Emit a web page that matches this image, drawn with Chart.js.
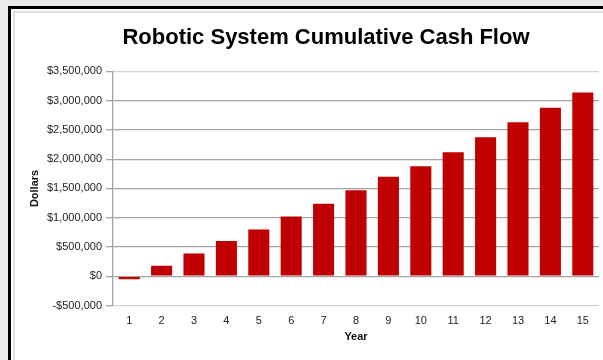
<!DOCTYPE html>
<html>
<head>
<meta charset="utf-8">
<script src="https://cdn.jsdelivr.net/npm/chart.js@4"></script>
<style>
  html, body { margin: 0; padding: 0; width: 603px; height: 360px; overflow: hidden; background: #ebebeb; }
  #frame { position: absolute; left: 8px; top: 6px; width: 700px; height: 400px; border-left: 3px solid #000; border-top: 3px solid #000; background: #fff; }
  #inner { position: absolute; left: 2px; top: 2px; width: 700px; height: 400px; border-left: 2px solid #dedede; border-top: 2px solid #dedede; background: #fff; }
  #wrap { position: absolute; left: 0; top: 0; width: 603px; height: 360px; }
</style>
</head>
<body>
<div id="frame"><div id="inner"></div></div>
<div id="wrap"><canvas id="c" width="603" height="360"></canvas></div>
<script>
const years = ['1','2','3','4','5','6','7','8','9','10','11','12','13','14','15'];
const cashFlow = [-50000, 180000, 390000, 600000, 800000, 1020000, 1240000, 1470000, 1700000, 1880000, 2120000, 2375000, 2630000, 2880000, 3140000];
const yTickValues = [-500000, 0, 500000, 1000000, 1500000, 2000000, 2500000, 3000000, 3500000];
const chartTitle = 'Robotic System Cumulative Cash Flow';
const xTitle = 'Year';
const yTitle = 'Dollars';

const FONT = "'Liberation Sans', Arial, sans-serif";

function fmtDollars(v) {
  const s = '$' + Math.abs(v).toLocaleString('en-US');
  return v < 0 ? '-' + s : s;
}

const titleShift = {
  id: 'titleShift',
  afterLayout(chart) {
    if (chart.titleBlock) { chart.titleBlock.left = 52; chart.titleBlock.right = 600; }
  }
};

new Chart(document.getElementById('c'), {
  type: 'bar',
  data: {
    labels: years,
    datasets: [{
      data: cashFlow,
      backgroundColor: '#c00000',
      borderColor: '#a80000',
      borderWidth: 0,
      categoryPercentage: 1.0,
      barPercentage: 0.65
    }]
  },
  plugins: [titleShift],
  options: {
    responsive: false,
    animation: false,
    layout: { padding: { left: 0, right: 4, top: 0, bottom: 0 } },
    plugins: {
      legend: { display: false },
      tooltip: { enabled: false },
      title: {
        display: true,
        text: chartTitle,
        color: '#000',
        font: { family: FONT, size: 22, weight: 'bold' },
        padding: { top: 25, bottom: 20 }
      }
    },
    scales: {
      x: {
        grid: { display: false, drawTicks: false },
        border: { display: false },
        ticks: { color: '#222', font: { family: FONT, size: 11 }, padding: 8.5, maxRotation: 0 },
        title: { display: true, text: xTitle, color: '#111', font: { family: FONT, size: 11, weight: 'bold' }, padding: { top: 2, bottom: 16.4 } },
        afterFit(scale) { scale.height = 54.5; }
      },
      y: {
        min: yTickValues[0],
        max: yTickValues[yTickValues.length - 1],
        afterBuildTicks(scale) { scale.ticks = yTickValues.map(v => ({ value: v })); },
        grid: {
          color: ctx => (ctx.tick && (ctx.tick.value === yTickValues[0] || ctx.tick.value === yTickValues[yTickValues.length - 1])) ? '#d2d2d2' : '#a3a3a3',
          lineWidth: 1.3,
          tickLength: 7,
          tickColor: '#a3a3a3'
        },
        border: { display: true, color: '#a3a3a3', width: 1.3 },
        ticks: { color: '#222', font: { family: FONT, size: 11 }, padding: 4, callback: v => fmtDollars(v) },
        title: { display: true, text: yTitle, color: '#111', font: { family: FONT, size: 11, weight: 'bold' }, padding: { top: 28, bottom: 0 } },
        afterFit(scale) { scale.width = 113; }
      }
    }
  }
});
</script>
</body>
</html>
